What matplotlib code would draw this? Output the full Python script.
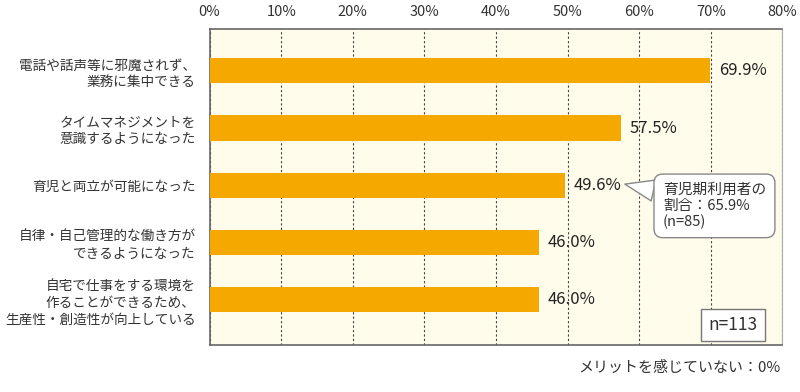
import matplotlib.pyplot as plt
from matplotlib.ticker import MultipleLocator, FuncFormatter

plt.rcParams['font.family'] = ['Noto Sans CJK JP', 'DejaVu Sans']

labels = [
    "電話や話声等に邪魔されず、\n業務に集中できる",
    "タイムマネジメントを\n意識するようになった",
    "育児と両立が可能になった",
    "自律・自己管理的な働き方が\nできるようになった",
    "自宅で仕事をする環境を\n作ることができるため、\n生産性・創造性が向上している",
]
values = [69.9, 57.5, 49.6, 46.0, 46.0]
note_text = "育児期利用者の\n割合：65.9%\n(n=85)"
n_text = "n=113"
footer = "メリットを感じていない：0%"

fig = plt.figure(figsize=(8, 3.92), dpi=100)
ax = fig.add_axes([0.262, 0.12, 0.716, 0.806])
ax.set_facecolor('#FFFCEB')

pos = list(range(len(values)))
ax.barh(pos, values, height=0.44, color='#F5A800', zorder=3)
for p, v in zip(pos, values):
    ax.text(v + 1.2, p, "%.1f%%" % v, va='center', ha='left', fontsize=12,
            color='#222222', zorder=4)

ax.set_xlim(0, 80)
ax.set_ylim(4.79, -0.73)
ax.xaxis.set_major_locator(MultipleLocator(10))
ax.xaxis.set_major_formatter(FuncFormatter(lambda x, _: "%d%%" % x))
ax.xaxis.tick_top()
ax.tick_params(axis='x', length=0, pad=7, labelsize=10.5, colors='#333333')
ax.set_yticks(pos)
ax.set_yticklabels(labels, fontsize=9.8, color='#333333', linespacing=1.25)
ax.tick_params(axis='y', length=0, pad=10)
ax.grid(axis='x', linestyle=(0, (2, 2)), color='#444444', linewidth=0.8, zorder=1)

for side in ['left', 'bottom', 'top']:
    ax.spines[side].set_color('#666666')
    ax.spines[side].set_linewidth(1.2)
ax.spines['right'].set_color('#aaaaaa')

# callout box with a wedge tail pointing at the 49.6% label
ax.annotate(note_text, xy=(58.0, 1.98), xytext=(63.3, 2.36),
            fontsize=10.6, ha='left', va='center', color='#333333', linespacing=1.15,
            bbox=dict(boxstyle='round,pad=0.6,rounding_size=0.6', fc='white', ec='#888888'),
            arrowprops=dict(arrowstyle='wedge,tail_width=0.7,shrink_factor=0.5',
                            fc='white', ec='#888888', relpos=(0.02, 0.78),
                            shrinkA=0, shrinkB=0, mutation_scale=22),
            zorder=5)

ax.text(73.1, 4.44, n_text, fontsize=12.5, ha='center', va='center', color='#333333',
        bbox=dict(boxstyle='square,pad=0.4', fc='white', ec='#777777'), zorder=5)

fig.text(0.976, 0.063, footer, ha='right', va='center', fontsize=10.8, color='#333333')

plt.savefig('out.png', dpi=100)
